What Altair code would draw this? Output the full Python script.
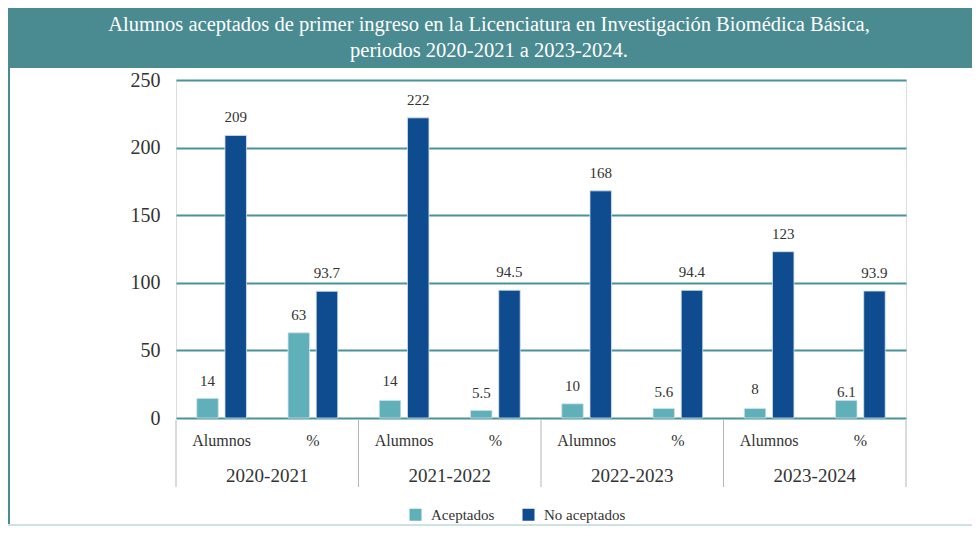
import altair as alt
import pandas as pd

years = ["2020-2021", "2021-2022", "2022-2023", "2023-2024"]
subcats = ["Alumnos", "%"]
series = ["Aceptados", "No aceptados"]
aceptados_bar = [14.5, 63, 13, 5.6, 10.5, 7, 7, 13]
aceptados_label = ["14", "63", "14", "5.5", "10", "5.6", "8", "6.1"]
aceptados_label_val = [14, 63, 14, 5.5, 10, 5.6, 8, 6.1]
no_aceptados_bar = [209, 93.7, 222, 94.5, 168, 94.4, 123, 93.9]
no_aceptados_label = ["209", "93.7", "222", "94.5", "168", "94.4", "123", "93.9"]
no_aceptados_label_val = [209, 93.7, 222, 94.5, 168, 94.4, 123, 93.9]
y_ticks = [0, 50, 100, 150, 200, 250]
title_line1 = "Alumnos aceptados de primer ingreso en la Licenciatura en Investigación Biomédica Básica,"
title_line2 = "periodos 2020-2021 a 2023-2024."

FONT = "Liberation Serif, serif"
TEAL_BANNER = "#4a8b91"
GRID = "#4a9399"
C_ACEP = "#5fb0b8"
C_NO = "#0f4c8f"
TXT = "#333333"

W, H = 730, 338

cats = [f"{y}|{s}" for y in years for s in subcats]

rows = []
for i, c in enumerate(cats):
    rows.append({"cat": c, "serie": series[0], "valor": aceptados_bar[i],
                 "etiqueta": aceptados_label[i], "pos": aceptados_label_val[i]})
    rows.append({"cat": c, "serie": series[1], "valor": no_aceptados_bar[i],
                 "etiqueta": no_aceptados_label[i], "pos": no_aceptados_label_val[i]})
df = pd.DataFrame(rows)

xscale = alt.Scale(domain=cats, paddingInner=0, paddingOuter=0)
xoff = alt.XOffset("serie:N", sort=series,
                   scale=alt.Scale(domain=series, paddingInner=0.238, paddingOuter=0.737))
yscale = alt.Scale(domain=[0, 250], nice=False)

bars = alt.Chart(df).mark_bar(stroke="#d3e1ee", strokeWidth=0.8).encode(
    x=alt.X("cat:N", scale=xscale, sort=cats, title=None,
            axis=alt.Axis(labelExpr="split(datum.label, '|')[1]", ticks=False, domain=False,
                          labelAngle=0, labelPadding=14, labelFont=FONT, labelFontSize=16,
                          labelColor=TXT, grid=False)),
    xOffset=xoff,
    y=alt.Y("valor:Q", scale=yscale, title=None,
            axis=alt.Axis(values=y_ticks, ticks=False, domain=False, grid=True,
                          gridColor=GRID, gridWidth=2, labelFont=FONT, labelFontSize=20,
                          labelColor=TXT, labelPadding=16)),
    color=alt.Color("serie:N", sort=series,
                    scale=alt.Scale(domain=series, range=[C_ACEP, C_NO]),
                    legend=alt.Legend(title=None, orient="none", legendX=232, legendY=427,
                                      direction="horizontal", symbolType="square",
                                      symbolSize=144, symbolStrokeWidth=0, labelFont=FONT,
                                      labelFontSize=15, labelColor=TXT, labelOffset=8,
                                      columnPadding=26, padding=0)),
)

labels = alt.Chart(df).mark_text(font=FONT, fontSize=15, color=TXT, baseline="middle",
                                 dy=-18).encode(
    x=alt.X("cat:N", scale=xscale, sort=cats),
    xOffset=xoff,
    y=alt.Y("pos:Q", scale=yscale),
    text="etiqueta:N",
)

years_df = pd.DataFrame({"cat": [f"{y}|Alumnos" for y in years],
                         "end": [f"{y}|%" for y in years], "year": years})

year_text = alt.Chart(years_df).mark_text(font=FONT, fontSize=19, color=TXT,
                                          baseline="middle").encode(
    x=alt.X("cat:N", scale=xscale, sort=cats, bandPosition=1),
    y=alt.value(H + 58),
    text="year:N",
)

sep_left = alt.Chart(years_df).mark_rule(color="#b5b5b5", strokeWidth=1).encode(
    x=alt.X("cat:N", scale=xscale, sort=cats, bandPosition=0),
    y=alt.value(H + 2), y2=alt.value(H + 69),
)
sep_right = alt.Chart(years_df.tail(1)).mark_rule(color="#b5b5b5", strokeWidth=1).encode(
    x=alt.X("end:N", scale=xscale, sort=cats, bandPosition=1),
    y=alt.value(H + 2), y2=alt.value(H + 69),
)

one = pd.DataFrame({"k": [0]})
banner = alt.Chart(one).mark_rect(color=TEAL_BANNER).encode(
    x=alt.value(-168), x2=alt.value(800), y=alt.value(-72), y2=alt.value(-12))
left_border = alt.Chart(one).mark_rule(color=TEAL_BANNER, strokeWidth=2).encode(
    x=alt.value(-167), y=alt.value(-12), y2=alt.value(446))
bottom_line = alt.Chart(one).mark_rule(color="#cfe2e3", strokeWidth=2).encode(
    x=alt.value(-168), x2=alt.value(800), y=alt.value(445))
t1 = alt.Chart(one).mark_text(font=FONT, fontSize=20.5, color="white", baseline="middle").encode(
    x=alt.value(313), y=alt.value(-55), text=alt.value(title_line1))
t2 = alt.Chart(one).mark_text(font=FONT, fontSize=20.5, color="white", baseline="middle").encode(
    x=alt.value(313), y=alt.value(-29), text=alt.value(title_line2))

chart = alt.layer(banner, left_border, bottom_line, t1, t2, bars, labels,
                  sep_left, sep_right, year_text).properties(
    width=W, height=H,
    autosize=alt.AutoSizeParams(type="none"),
    padding={"left": 168, "top": 72, "right": 66, "bottom": 109},
).configure_view(stroke=None).configure(background="white", font=FONT)

chart.save("out.html", embed_options={"renderer": "svg", "actions": False})
